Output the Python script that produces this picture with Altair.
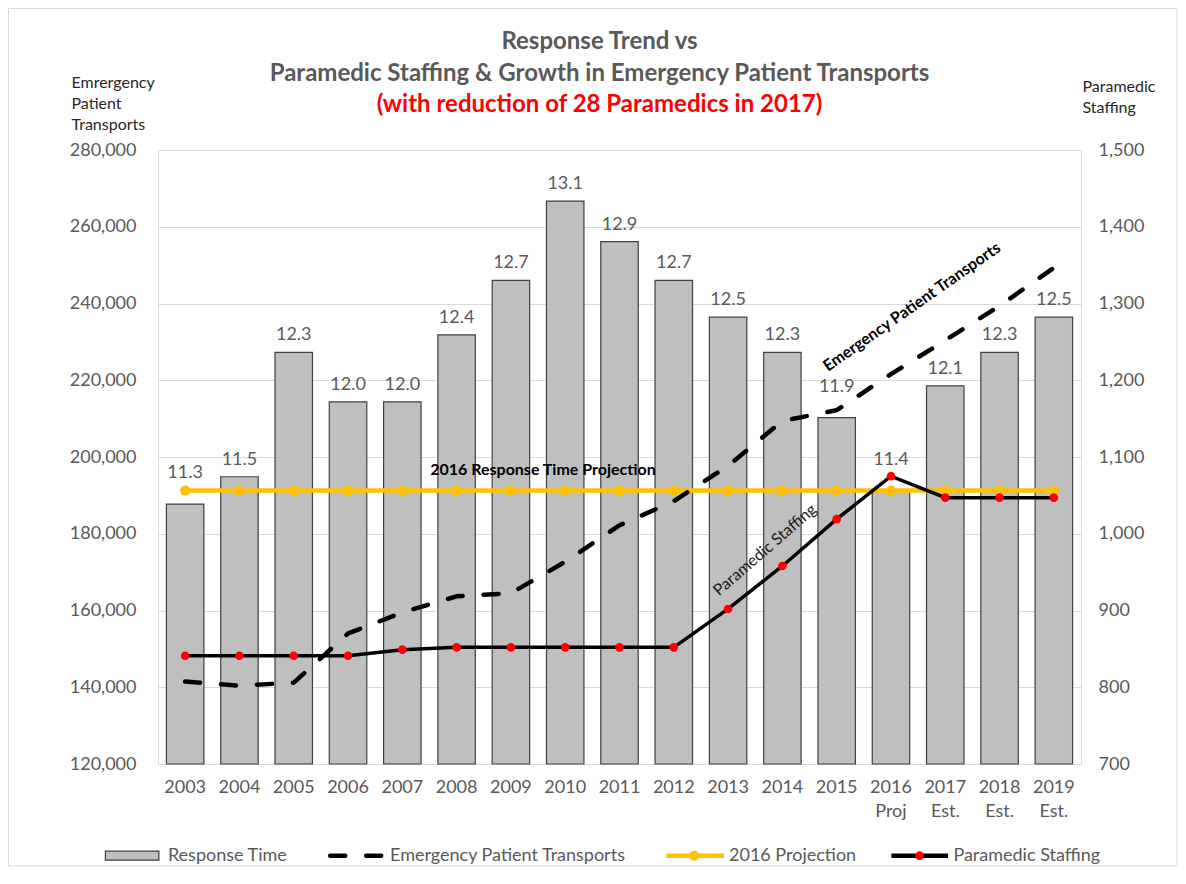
import altair as alt
import pandas as pd

# ---------------- data ----------------
years = ["2003", "2004", "2005", "2006", "2007", "2008", "2009", "2010", "2011",
         "2012", "2013", "2014", "2015", "2016\nProj", "2017\nEst.", "2018\nEst.", "2019\nEst."]
response_time = [11.3, 11.5, 12.3, 12.0, 12.0, 12.4, 12.7, 13.1, 12.9,
                 12.7, 12.5, 12.3, 11.9, 11.4, 12.1, 12.3, 12.5]
patient_transports = [141500, 140400, 141200, 154000, 159500, 163700, 164500, 172700, 182200,
                      188500, 197700, 209400, 212200, 221600, 230400, 239400, 249300]
paramedic_staffing = [841, 841, 841, 841, 849, 852, 852, 852, 852,
                      852, 902, 958, 1019, 1075, 1047, 1047, 1047]
projection_2016 = [11.4, 11.4, 11.4, 11.4, 11.4, 11.4, 11.4, 11.4, 11.4,
                   11.4, 11.4, 11.4, 11.4, 11.4, 11.4, 11.4, 11.4]
left_ticks = [120000, 140000, 160000, 180000, 200000, 220000, 240000, 260000, 280000]
right_ticks = [700, 800, 900, 1000, 1100, 1200, 1300, 1400, 1500]
raised_label_years = ["2003", "2015", "2016\nProj"]

df = pd.DataFrame({
    "year": years,
    "rt": response_time,
    "transports": patient_transports,
    "staffing": paramedic_staffing,
    "proj": projection_2016,
})
df["raised"] = df["year"].isin(raised_label_years)

# ---------------- styling ----------------
W, H = 923, 614
GREY = "#595959"
FONT = "Lato"
GRID = "#d9d9d9"
LBL = 18

x_enc = alt.X(
    "year:N", sort=years,
    scale=alt.Scale(paddingInner=0.31, paddingOuter=0.155),
    axis=alt.Axis(title=None, labelAngle=0, labelExpr="split(datum.label, '\\n')",
                  labelFontSize=LBL, labelColor=GREY, labelFont=FONT, labelPadding=14,
                  labelLineHeight=24, labelBaseline="top", ticks=False,
                  domainColor=GRID, domainWidth=1, grid=False),
)

rt_scale = alt.Scale(type="pow", exponent=4, domain=[8.42, 13.34], zero=False, nice=False)
rt_y = alt.Y("rt:Q", scale=rt_scale, axis=None)

bars = alt.Chart(df).mark_bar(color="#bfbfbf", stroke="#404040", strokeWidth=1.2).encode(
    x=x_enc, y=rt_y, y2=alt.datum(8.42))

labels = alt.Chart(df).transform_filter("!datum.raised").mark_text(
    dy=-17, fontSize=LBL, color=GREY, font=FONT, baseline="middle").encode(
    x=x_enc, y=rt_y, text=alt.Text("rt:Q", format=".1f"))

labels_raised = alt.Chart(df).transform_filter("datum.raised").mark_text(
    dy=-31, fontSize=LBL, color=GREY, font=FONT, baseline="middle").encode(
    x=x_enc, y=rt_y, text=alt.Text("rt:Q", format=".1f"))

proj_y = alt.Y("proj:Q", scale=rt_scale, axis=None)
yline = alt.Chart(df).mark_line(color="#ffc000", strokeWidth=4.5).encode(x=x_enc, y=proj_y)
ypts = alt.Chart(df).mark_circle(color="#ffc000", size=100, opacity=1).encode(x=x_enc, y=proj_y)

rt_layer = alt.layer(bars, labels, labels_raised, yline, ypts)

trans_y = alt.Y(
    "transports:Q",
    scale=alt.Scale(domain=[120000, 280000], nice=False, zero=False),
    axis=alt.Axis(orient="left", values=left_ticks, format=",.0f",
                  title=["Emrergency", "Patient", "Transports"], titleAngle=0,
                  titleAlign="left", titleBaseline="top", titleX=-87, titleY=-76,
                  titleFontSize=16, titleFontWeight="normal", titleColor="#262626",
                  titleFont=FONT, titleLineHeight=21,
                  labelFontSize=LBL, labelColor=GREY, labelFont=FONT, labelPadding=22,
                  ticks=False, domain=False, grid=True, gridColor=GRID, gridWidth=1),
)
dashed = alt.Chart(df).mark_line(color="black", strokeWidth=4.5, strokeDash=[15, 21],
                                 strokeCap="round").encode(x=x_enc, y=trans_y)

staff_y = alt.Y(
    "staffing:Q",
    scale=alt.Scale(domain=[700, 1500], nice=False, zero=False),
    axis=alt.Axis(orient="right", values=right_ticks, format=",.0f",
                  title=["Paramedic", "Staffing"], titleAngle=0,
                  titleAlign="left", titleBaseline="top", titleX=1, titleY=-72,
                  titleFontSize=16, titleFontWeight="normal", titleColor="#262626",
                  titleFont=FONT, titleLineHeight=21,
                  labelFontSize=LBL, labelColor=GREY, labelFont=FONT, labelPadding=17,
                  ticks=False, domain=False, grid=False),
)
sline = alt.Chart(df).mark_line(color="black", strokeWidth=3.5).encode(x=x_enc, y=staff_y)
spts = alt.Chart(df).mark_circle(color="#ff0000", size=75, opacity=1).encode(x=x_enc, y=staff_y)
staff_layer = alt.layer(sline, spts)

one = alt.Data(values=[{}])

def txt(text, x, y, size=16, weight="bold", angle=0, color="black", align="center"):
    return alt.Chart(one).mark_text(text=text, fontSize=size, fontWeight=weight, angle=angle,
                                    color=color, font=FONT, align=align,
                                    baseline="middle").encode(x=alt.value(x), y=alt.value(y))

annotations = [
    txt("2016 Response Time Projection", 385, 320),
    txt("Emergency Patient Transports", 754, 157, angle=325),
    txt("Paramedic Staffing", 607, 400, size=16, weight="normal", angle=319, color="#1a1a1a"),
]

LY = 705.7
legend = [
    alt.Chart(one).mark_rect(fill="#bfbfbf", stroke="#404040", strokeWidth=1.2).encode(
        x=alt.value(-52.6), x2=alt.value(0.9), y=alt.value(LY - 4.5), y2=alt.value(LY + 4.5)),
    txt("Response Time", 9.9, LY, size=LBL, weight="normal", color=GREY, align="left"),
    alt.Chart(one).mark_rule(color="black", strokeWidth=4.5, strokeDash=[15, 21],
                             strokeCap="round").encode(
        x=alt.value(172.2), x2=alt.value(226), y=alt.value(LY)),
    txt("Emergency Patient Transports", 232, LY, size=LBL, weight="normal", color=GREY, align="left"),
    alt.Chart(one).mark_rule(color="#ffc000", strokeWidth=4.5).encode(
        x=alt.value(508.5), x2=alt.value(566), y=alt.value(LY)),
    alt.Chart(one).mark_circle(color="#ffc000", size=100, opacity=1).encode(
        x=alt.value(536.3), y=alt.value(LY)),
    txt("2016 Projection", 571, LY, size=LBL, weight="normal", color=GREY, align="left"),
    alt.Chart(one).mark_rule(color="black", strokeWidth=4.5).encode(
        x=alt.value(733.4), x2=alt.value(790.1), y=alt.value(LY)),
    alt.Chart(one).mark_circle(color="#ff0000", size=75, opacity=1).encode(
        x=alt.value(761.6), y=alt.value(LY)),
    txt("Paramedic Staffing", 795.4, LY, size=LBL, weight="normal", color=GREY, align="left"),
]

border = alt.Chart(one).mark_rect(filled=False, stroke=GRID, strokeWidth=1).encode(
    x=alt.value(-149.5), x2=alt.value(1019), y=alt.value(-141.5), y2=alt.value(716))

chart = alt.layer(rt_layer, dashed, staff_layer, *annotations, *legend, border).resolve_scale(
    y="independent"
).properties(
    width=W, height=H,
    padding={"left": 150, "top": 142, "right": 97, "bottom": 103},
    autosize=alt.AutoSizeParams(type="none"),
    title=alt.TitleParams(
        text=["Response Trend vs", "Paramedic Staffing & Growth in Emergency Patient Transports"],
        subtitle="(with reduction of 28 Paramedics in 2017)",
        font=FONT, fontSize=24, fontWeight="bold", color=GREY, lineHeight=32,
        subtitleFont=FONT, subtitleFontSize=24, subtitleFontWeight="bold",
        subtitleColor="#ff0000", subtitlePadding=7,
        anchor="middle", dx=-20, offset=-109,
    ),
).configure_view(stroke=None).configure(font=FONT, background="white")

chart.save("out.html", embed_options={"renderer": "svg", "actions": False})
